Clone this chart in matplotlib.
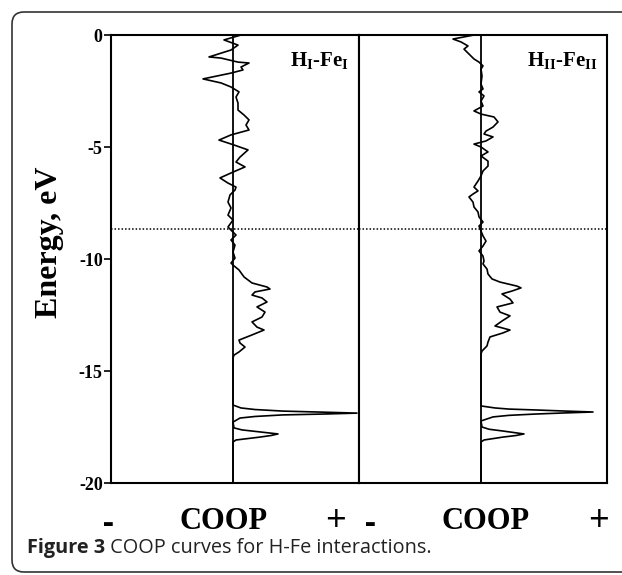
import matplotlib
matplotlib.use("Agg")
import matplotlib.pyplot as plt
from matplotlib.patches import FancyBboxPatch
from matplotlib.transforms import IdentityTransform

# Energia (eV) y COOP (unidades arbitrarias)
energia_1 = [0.00, -0.22, -0.45, -0.67, -0.98, -1.03, -1.21, -1.25, -1.43, -1.56,
             -1.70, -1.96, -2.14, -2.32, -2.54, -2.77, -3.04, -3.35, -3.57, -3.79,
             -4.02, -4.24, -4.46, -4.69, -4.91, -5.13, -5.45, -5.67, -5.89, -6.12,
             -6.38, -6.61, -6.79, -6.92, -7.14, -7.46, -7.72, -8.04, -8.26, -8.57,
             -8.71, -8.93, -9.15, -9.38, -9.69, -9.96, -10.18, -10.27, -10.49, -10.80,
             -11.07, -11.25, -11.34, -11.47, -11.61, -11.74, -11.92, -12.14, -12.37, -12.59,
             -12.81, -13.04, -13.17, -13.39, -13.62, -13.75, -13.93, -14.15, -14.29, -14.42,
             -16.52, -16.65, -16.72, -16.79, -16.84, -16.88, -16.92, -16.96, -17.03, -17.10,
             -17.28, -17.54, -17.63, -17.72, -17.81, -17.88, -17.95, -18.08, -18.17, -20.00]
coop_1 = [0.08, -0.09, 0.05, -0.02, -0.24, -0.12, 0.05, 0.16, 0.08, 0.10,
          -0.02, -0.30, -0.12, -0.02, 0.06, 0.03, 0.05, 0.05, 0.11, 0.16,
          0.13, 0.16, -0.02, -0.14, 0.01, 0.15, 0.07, 0.03, 0.12, 0.00,
          -0.13, -0.05, 0.03, 0.02, -0.03, -0.05, -0.02, -0.05, 0.00, -0.05,
          -0.02, 0.03, -0.02, 0.02, 0.00, 0.02, -0.02, 0.00, 0.06, 0.11,
          0.19, 0.34, 0.37, 0.22, 0.19, 0.29, 0.34, 0.24, 0.32, 0.29,
          0.19, 0.24, 0.31, 0.19, 0.06, 0.07, 0.12, 0.06, 0.01, 0.00,
          0.00, 0.08, 0.22, 0.50, 0.92, 1.24, 0.92, 0.50, 0.22, 0.07,
          0.00, 0.01, 0.09, 0.27, 0.45, 0.38, 0.27, 0.03, 0.00, 0.00]

energia_2 = [0.00, -0.18, -0.31, -0.49, -0.63, -0.85, -1.07, -1.21, -1.38, -1.52,
             -1.83, -2.19, -2.41, -2.54, -2.72, -2.95, -3.17, -3.39, -3.53, -3.66,
             -3.88, -4.11, -4.29, -4.42, -4.55, -4.73, -4.87, -5.00, -5.22, -5.40,
             -5.63, -5.85, -6.07, -6.29, -6.52, -6.65, -6.79, -6.96, -7.10, -7.23,
             -7.46, -7.68, -7.90, -8.12, -8.35, -8.53, -8.75, -8.97, -9.20, -9.42,
             -9.64, -9.87, -10.09, -10.22, -10.45, -10.67, -10.89, -11.03, -11.21, -11.29,
             -11.43, -11.56, -11.79, -11.96, -12.14, -12.37, -12.54, -12.77, -12.99, -13.17,
             -13.30, -13.48, -13.71, -13.88, -14.11, -14.24,
             -16.56, -16.65, -16.70, -16.74, -16.79, -16.83, -16.87, -16.92, -16.98, -17.05,
             -17.23, -17.50, -17.60, -17.68, -17.81, -17.88, -17.95, -18.08, -18.17, -20.00]
coop_2 = [-0.07, -0.28, -0.20, -0.13, -0.17, -0.12, -0.07, -0.02, 0.02, 0.00,
          0.01, 0.00, 0.02, -0.02, 0.03, 0.00, 0.02, -0.07, 0.00, 0.13,
          0.17, 0.12, 0.05, 0.03, 0.12, 0.05, -0.07, 0.00, 0.07, 0.00,
          0.07, 0.07, 0.02, 0.00, -0.03, -0.05, -0.07, -0.03, -0.08, -0.12,
          -0.08, -0.07, -0.03, -0.02, 0.02, -0.02, 0.00, 0.02, 0.05, 0.02,
          -0.02, 0.02, 0.03, 0.02, 0.06, 0.07, 0.11, 0.19, 0.36, 0.40,
          0.31, 0.21, 0.29, 0.32, 0.16, 0.19, 0.29, 0.21, 0.14, 0.29,
          0.22, 0.09, 0.07, 0.06, 0.01, 0.00,
          0.00, 0.14, 0.28, 0.55, 0.85, 1.12, 0.85, 0.55, 0.28, 0.12,
          0.00, 0.01, 0.08, 0.22, 0.43, 0.35, 0.22, 0.03, 0.00, 0.00]

nivel_fermi = -8.66
ticks_energia = [0, -5, -10, -15, -20]
etiquetas = ["H$_{\\mathbf{I}}$-Fe$_{\\mathbf{I}}$", "H$_{\\mathbf{II}}$-Fe$_{\\mathbf{II}}$"]

plt.rcParams["mathtext.fontset"] = "custom"
plt.rcParams["mathtext.bf"] = "Liberation Serif:bold"
plt.rcParams["mathtext.rm"] = "Liberation Serif:bold"
serif = "Liberation Serif"

fig = plt.figure(figsize=(6.22, 5.75), dpi=100)

marco = FancyBboxPatch((12, 3), 640, 560, boxstyle="round,pad=0,rounding_size=12",
                       transform=IdentityTransform(), facecolor="none",
                       edgecolor="#333333", linewidth=1.2)
fig.add_artist(marco)

izq, abajo, ancho, alto = 111 / 622, 1 - 483 / 575, 248 / 622, 448 / 575
ax1 = fig.add_axes([izq, abajo, ancho, alto])
ax2 = fig.add_axes([izq + ancho, abajo, ancho, alto])

# posiciones (fraccion del eje) de COOP, "-" y "+" en cada panel
pos_coop = [0.455, 0.512]
pos_menos = [-0.01, 0.045]
pos_mas = [0.905, 0.964]

for i, (ax, energia, coop, etiqueta) in enumerate([(ax1, energia_1, coop_1, etiquetas[0]),
                                                   (ax2, energia_2, coop_2, etiquetas[1])]):
    ax.plot(coop, energia, color="black", linewidth=1.2)
    ax.axvline(0, color="black", linewidth=1.3)
    ax.axhline(nivel_fermi, color="black", linewidth=1.1, linestyle=(0, (1, 1.3)))
    ax.set_xlim(-1.22, 1.26)
    ax.set_ylim(-20, 0)
    ax.set_xticks([])
    for s in ax.spines.values():
        s.set_linewidth(1.5)
    ax.text(0.96, 0.965, etiqueta, transform=ax.transAxes, ha="right", va="top",
            fontsize=15, fontweight="bold", family=serif)
    ax.text(pos_coop[i], -0.085, "COOP", transform=ax.transAxes, ha="center", va="center",
            fontsize=22, fontweight="bold", family=serif)
    ax.text(pos_menos[i], -0.092, "-", transform=ax.transAxes, ha="center", va="center",
            fontsize=24, fontweight="bold", family="Open Sans")
    ax.text(pos_mas[i], -0.086, "+", transform=ax.transAxes, ha="center", va="center",
            fontsize=26, family="Open Sans")

ax1.set_yticks(ticks_energia)
ax1.set_yticklabels([str(t) for t in ticks_energia], fontsize=13, fontweight="bold", family=serif)
ax1.tick_params(axis="y", direction="out", length=5, width=1.2, pad=1)
ax2.set_yticks([])

fig.text(50 / 622, 1 - 242 / 575, "Energy, eV", rotation=90, ha="center", va="center",
         fontsize=23, fontweight="bold", family=serif)

t1 = fig.text(27 / 622, 1 - 553 / 575, "Figure 3", fontsize=14.3, fontweight="bold",
              family="Open Sans", color="#222222", va="baseline")
fig.canvas.draw()
bb = t1.get_window_extent()
fig.text(bb.x1 / 622, 1 - 553 / 575, " COOP curves for H-Fe interactions.", fontsize=14.3,
         family="Open Sans", color="#222222", va="baseline")

plt.savefig("out.png", dpi=100)
plt.close()
